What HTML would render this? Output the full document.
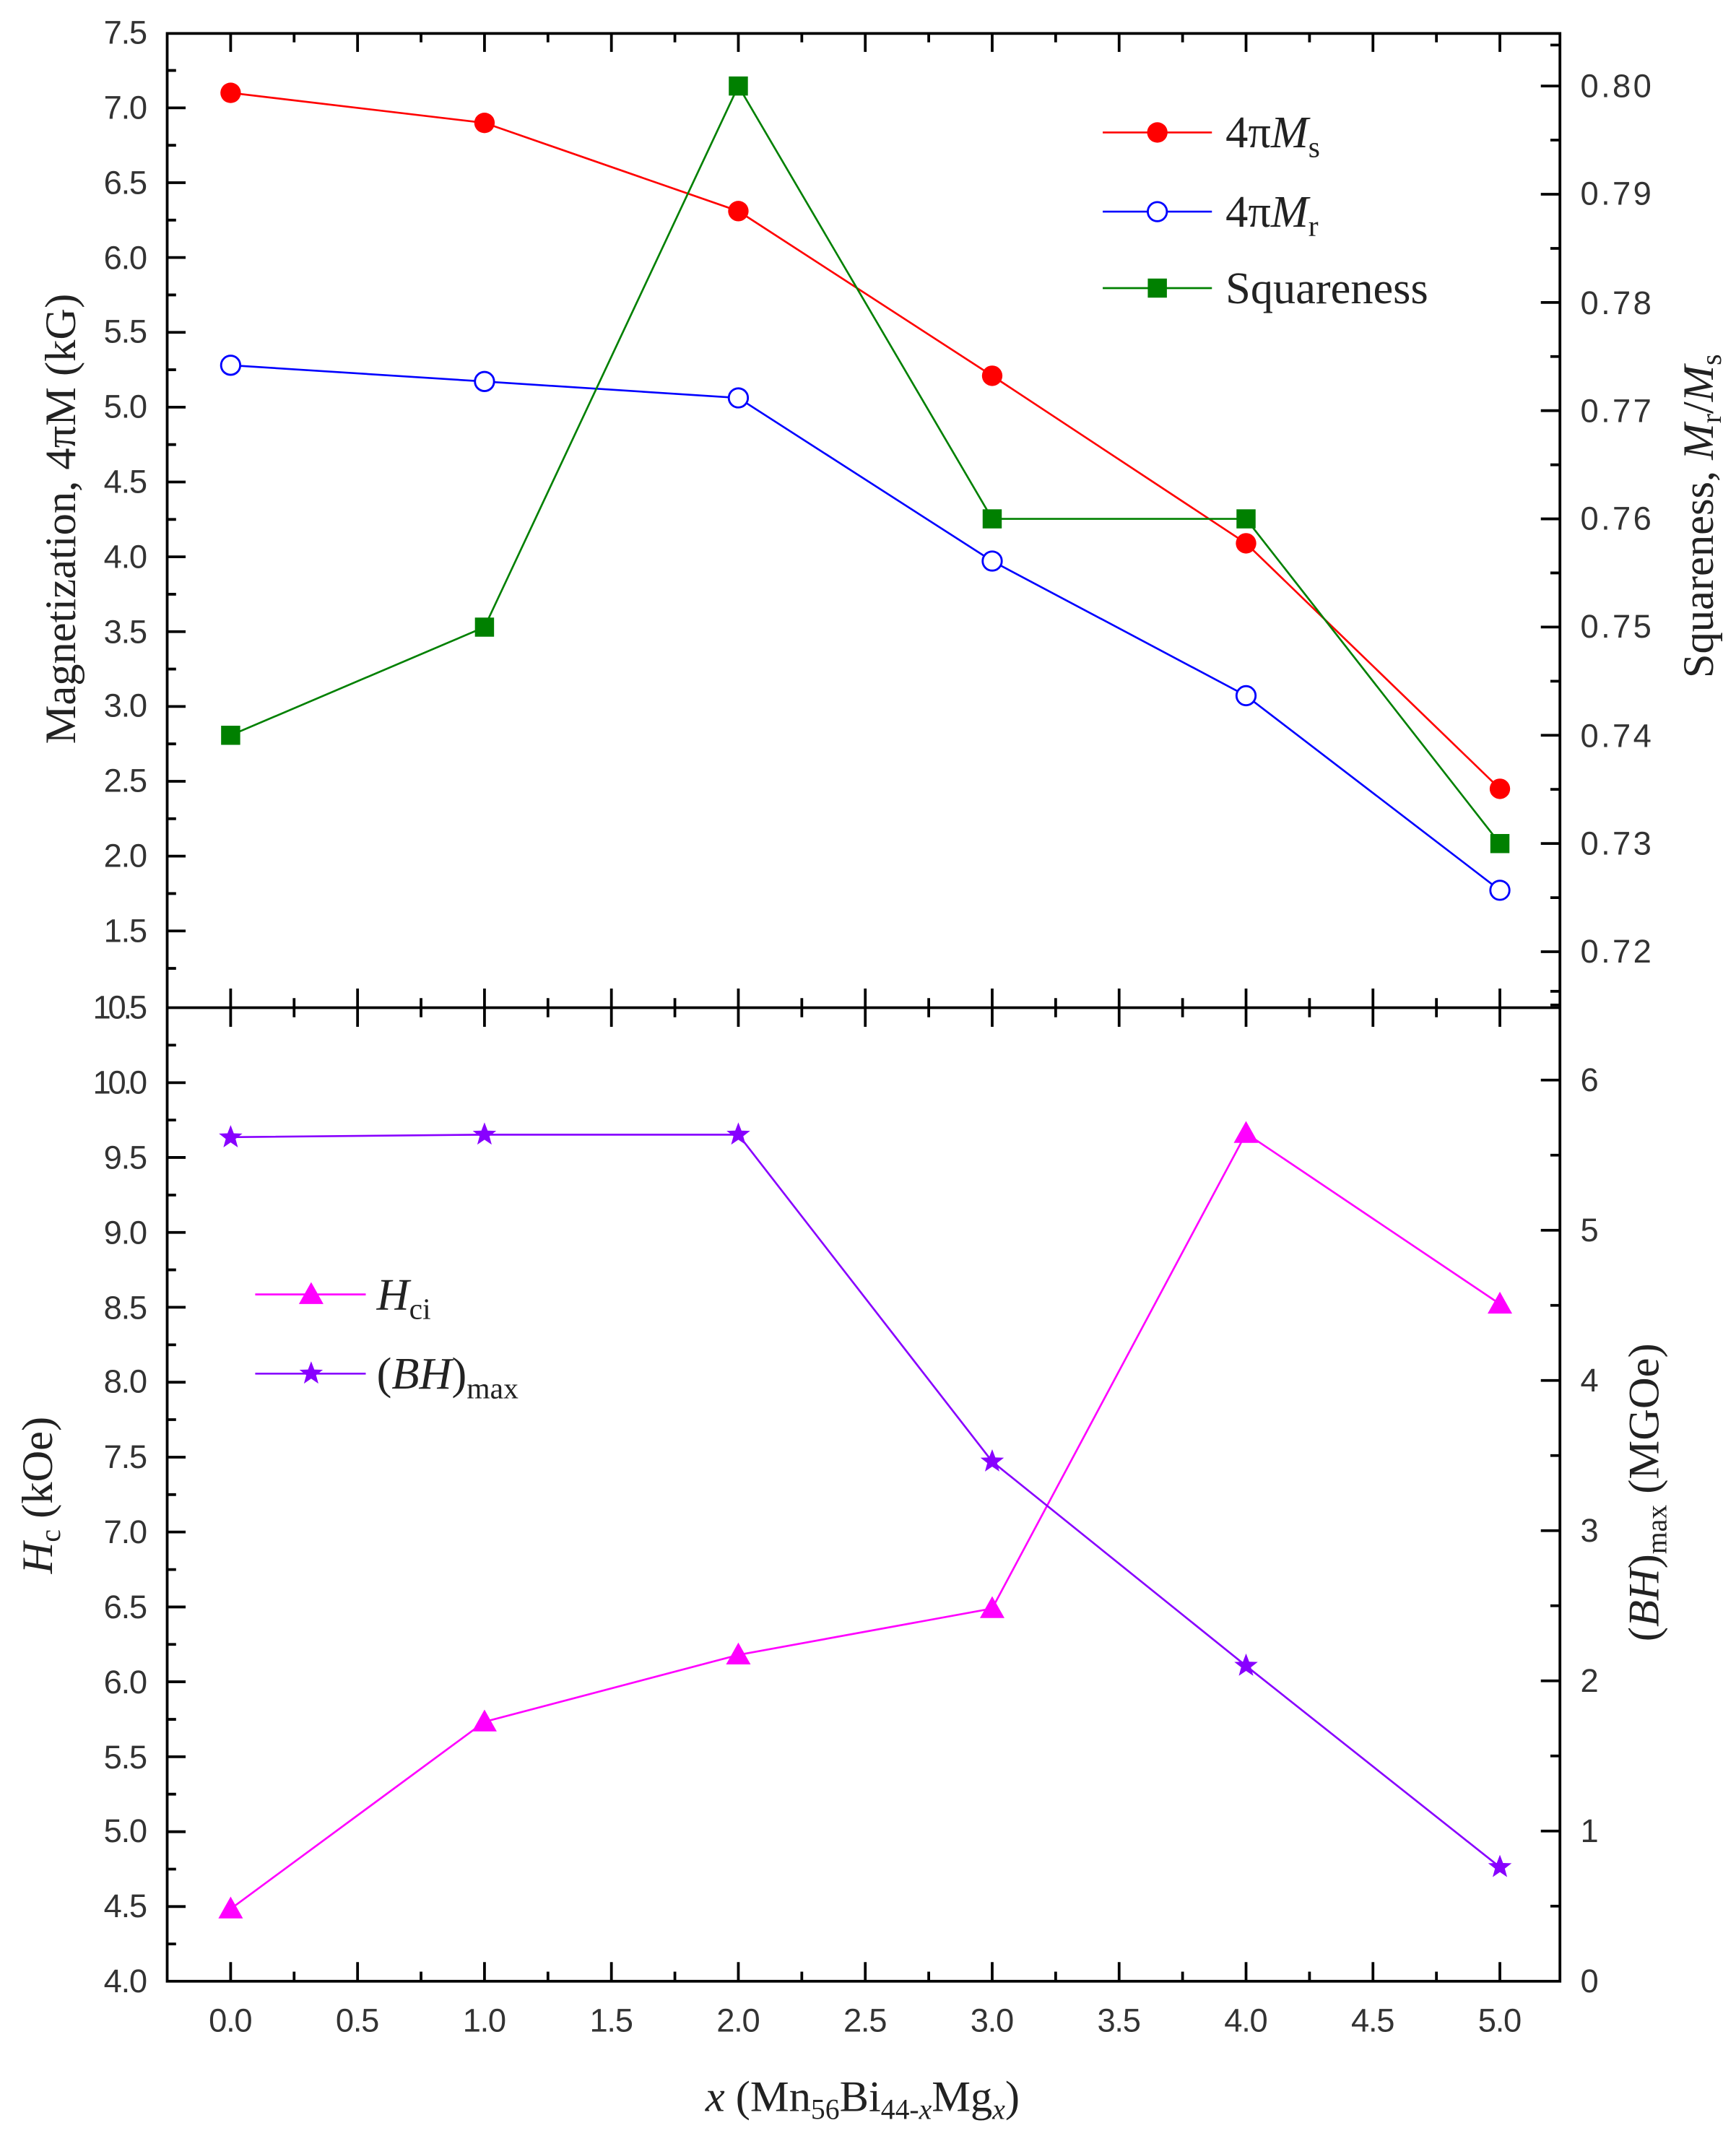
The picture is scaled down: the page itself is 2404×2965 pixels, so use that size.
<!DOCTYPE html>
<html><head><meta charset="utf-8"><style>html,body{margin:0;padding:0;background:#fff}svg{display:block}</style></head>
<body>
<svg xmlns="http://www.w3.org/2000/svg" width="2404" height="2965" viewBox="0 0 1272 1568" preserveAspectRatio="none">
<rect width="1272" height="1568" fill="#fff"/>
<g stroke="#000" stroke-width="2" fill="none">
<rect x="122.5" y="24.5" width="1020.5" height="1426.5"/>
<line x1="122.5" y1="738" x2="1143" y2="738"/>
</g>
<g stroke="#000" stroke-width="2">
<path d="M169 24v14M262 24v14M355 24v14M448 24v14M541 24v14M634 24v14M727 24v14M820 24v14M913 24v14M1006 24v14M1099 24v14
M215.5 24v7M308.5 24v7M401.5 24v7M494.5 24v7M587.5 24v7M680.5 24v7M773.5 24v7M866.5 24v7M959.5 24v7M1052.5 24v7
M169 724v28M262 724v28M355 724v28M448 724v28M541 724v28M634 724v28M727 724v28M820 724v28M913 724v28M1006 724v28M1099 724v28
M215.5 731v14M308.5 731v14M401.5 731v14M494.5 731v14M587.5 731v14M680.5 731v14M773.5 731v14M866.5 731v14M959.5 731v14M1052.5 731v14
M169 1451v-14M262 1451v-14M355 1451v-14M448 1451v-14M541 1451v-14M634 1451v-14M727 1451v-14M820 1451v-14M913 1451v-14M1006 1451v-14M1099 1451v-14
M215.5 1451v-7M308.5 1451v-7M401.5 1451v-7M494.5 1451v-7M587.5 1451v-7M680.5 1451v-7M773.5 1451v-7M866.5 1451v-7M959.5 1451v-7M1052.5 1451v-7"/>
<path d="M122 79h14M122 133.8h14M122 188.6h14M122 243.4h14M122 298.2h14M122 353h14M122 407.8h14M122 462.6h14M122 517.4h14M122 572.2h14M122 627h14M122 681.8h14
M122 51.6h7M122 106.4h7M122 161.2h7M122 216h7M122 270.8h7M122 325.6h7M122 380.4h7M122 435.2h7M122 490h7M122 544.8h7M122 599.6h7M122 654.4h7M122 709.2h7"/>
<path d="M1143 63h-14M1143 142.25h-14M1143 221.5h-14M1143 300.75h-14M1143 380h-14M1143 459.25h-14M1143 538.5h-14M1143 617.75h-14M1143 697h-14
M1143 102.6h-7M1143 181.9h-7M1143 261.1h-7M1143 340.4h-7M1143 419.6h-7M1143 498.9h-7M1143 578.1h-7M1143 657.4h-7M1143 33h-7M1143 726h-7"/>
<path d="M122 792.9h14M122 847.7h14M122 902.6h14M122 957.4h14M122 1012.3h14M122 1067.2h14M122 1122h14M122 1176.9h14M122 1231.7h14M122 1286.6h14M122 1341.5h14M122 1396.3h14
M122 765.4h7M122 820.3h7M122 875.2h7M122 930h7M122 984.9h7M122 1039.7h7M122 1094.6h7M122 1149.5h7M122 1204.3h7M122 1259.2h7M122 1314h7M122 1368.9h7M122 1423.7h7"/>
<path d="M1143 791h-14M1143 901h-14M1143 1011h-14M1143 1121h-14M1143 1231h-14M1143 1341h-14
M1143 846h-7M1143 956h-7M1143 1066h-7M1143 1176h-7M1143 1286h-7M1143 1396h-7M1143 736h-7"/>
</g>
<g font-family="Liberation Sans, sans-serif" font-size="24" fill="#333" text-anchor="end" lengthAdjust="spacingAndGlyphs">
<text x="108" y="32" textLength="32">7.5</text>
<text x="108" y="87" textLength="32">7.0</text>
<text x="108" y="142" textLength="32">6.5</text>
<text x="108" y="197" textLength="32">6.0</text>
<text x="108" y="251" textLength="32">5.5</text>
<text x="108" y="306" textLength="32">5.0</text>
<text x="108" y="361" textLength="32">4.5</text>
<text x="108" y="416" textLength="32">4.0</text>
<text x="108" y="471" textLength="32">3.5</text>
<text x="108" y="525" textLength="32">3.0</text>
<text x="108" y="580" textLength="32">2.5</text>
<text x="108" y="635" textLength="32">2.0</text>
<text x="108" y="690" textLength="32">1.5</text>
<text x="108" y="746" textLength="40">10.5</text>
<text x="108" y="801" textLength="40">10.0</text>
<text x="108" y="856" textLength="32">9.5</text>
<text x="108" y="911" textLength="32">9.0</text>
<text x="108" y="966" textLength="32">8.5</text>
<text x="108" y="1020" textLength="32">8.0</text>
<text x="108" y="1075" textLength="32">7.5</text>
<text x="108" y="1130" textLength="32">7.0</text>
<text x="108" y="1185" textLength="32">6.5</text>
<text x="108" y="1240" textLength="32">6.0</text>
<text x="108" y="1295" textLength="32">5.5</text>
<text x="108" y="1349" textLength="32">5.0</text>
<text x="108" y="1404" textLength="32">4.5</text>
<text x="108" y="1459" textLength="32">4.0</text>
</g>
<g font-family="Liberation Sans, sans-serif" font-size="24" fill="#333" text-anchor="start" lengthAdjust="spacingAndGlyphs">
<text x="1158" y="71" textLength="52">0.80</text>
<text x="1158" y="150" textLength="52">0.79</text>
<text x="1158" y="230" textLength="52">0.78</text>
<text x="1158" y="309" textLength="52">0.77</text>
<text x="1158" y="388" textLength="52">0.76</text>
<text x="1158" y="467" textLength="52">0.75</text>
<text x="1158" y="547" textLength="52">0.74</text>
<text x="1158" y="626" textLength="52">0.73</text>
<text x="1158" y="705" textLength="52">0.72</text>
<text x="1158" y="799">6</text>
<text x="1158" y="909">5</text>
<text x="1158" y="1019">4</text>
<text x="1158" y="1129">3</text>
<text x="1158" y="1239">2</text>
<text x="1158" y="1349">1</text>
<text x="1158" y="1459">0</text>
</g>
<g font-family="Liberation Sans, sans-serif" font-size="24" fill="#333" text-anchor="middle" lengthAdjust="spacingAndGlyphs">
<text x="169" y="1488" textLength="32">0.0</text>
<text x="262" y="1488" textLength="32">0.5</text>
<text x="355" y="1488" textLength="32">1.0</text>
<text x="448" y="1488" textLength="32">1.5</text>
<text x="541" y="1488" textLength="32">2.0</text>
<text x="634" y="1488" textLength="32">2.5</text>
<text x="727" y="1488" textLength="32">3.0</text>
<text x="820" y="1488" textLength="32">3.5</text>
<text x="913" y="1488" textLength="32">4.0</text>
<text x="1006" y="1488" textLength="32">4.5</text>
<text x="1099" y="1488" textLength="32">5.0</text>
</g>
<g font-family="Liberation Serif, serif" font-size="32" fill="#222">
<text transform="translate(55,380) rotate(-90)" text-anchor="middle">Magnetization, 4πM (kG)</text>
<text transform="translate(1255,378) rotate(-90)" text-anchor="middle">Squareness, <tspan font-style="italic">M</tspan><tspan font-size="21" dy="6">r</tspan><tspan dy="-6">/</tspan><tspan font-style="italic">M</tspan><tspan font-size="21" dy="6">s</tspan></text>
<text transform="translate(38,1095) rotate(-90)" text-anchor="middle"><tspan font-style="italic">H</tspan><tspan font-size="21" dy="6">c</tspan><tspan dy="-6"> (kOe)</tspan></text>
<text transform="translate(1215,1093) rotate(-90)" text-anchor="middle">(<tspan font-style="italic">BH</tspan>)<tspan font-size="21" dy="6">max</tspan><tspan dy="-6"> (MGOe)</tspan></text>
<text x="632" y="1546" text-anchor="middle"><tspan font-style="italic">x</tspan> (Mn<tspan font-size="21" dy="6">56</tspan><tspan dy="-6">Bi</tspan><tspan font-size="21" dy="6">44-<tspan font-style="italic">x</tspan></tspan><tspan dy="-6">Mg</tspan><tspan font-size="21" dy="6" font-style="italic">x</tspan><tspan dy="-6">)</tspan></text>
</g>
<g fill="none" stroke-width="1.4">
<polyline stroke="#ff0000" points="169,68 355,90 541,154.6 727,275.2 913,397.9 1099,577.7"/>
<polyline stroke="#0000ff" points="169,267.5 355,279.4 541,291.4 727,410.9 913,509.5 1099,652"/>
<polyline stroke="#008000" points="169,538.5 355,459.3 541,63 727,380 913,380 1099,617.8"/>
<polyline stroke="#ff00ff" points="169,1398 355,1261 541,1212 727,1178 913,830 1099,955"/>
<polyline stroke="#8800ff" points="169,832.8 355,831 541,831 727,1070.4 913,1220 1099,1367.4"/>
</g>
<g fill="#ff0000">
<circle cx="169" cy="68" r="7.5"/><circle cx="355" cy="90" r="7.5"/><circle cx="541" cy="154.6" r="7.5"/><circle cx="727" cy="275.2" r="7.5"/><circle cx="913" cy="397.9" r="7.5"/><circle cx="1099" cy="577.7" r="7.5"/>
</g>
<g fill="#fff" stroke="#0000ff" stroke-width="1.5">
<circle cx="169" cy="267.5" r="7"/><circle cx="355" cy="279.4" r="7"/><circle cx="541" cy="291.4" r="7"/><circle cx="727" cy="410.9" r="7"/><circle cx="913" cy="509.5" r="7"/><circle cx="1099" cy="652" r="7"/>
</g>
<g fill="#008000">
<rect x="162" y="531.5" width="14" height="14"/><rect x="348" y="452.3" width="14" height="14"/><rect x="534" y="56" width="14" height="14"/><rect x="720" y="373" width="14" height="14"/><rect x="906" y="373" width="14" height="14"/><rect x="1092" y="610.8" width="14" height="14"/>
</g>
<g fill="#ff00ff">
<path d="M169 1389l9 16h-18z"/><path d="M355 1252l9 16h-18z"/><path d="M541 1203l9 16h-18z"/><path d="M727 1169l9 16h-18z"/><path d="M913 821l9 16h-18z"/><path d="M1099 946l9 16h-18z"/>
</g>
<defs><path id="st" d="M0,-9 L2.3,-3 L8.6,-2.8 L3.6,1.1 L5.3,7.3 L0,3.7 L-5.3,7.3 L-3.6,1.1 L-8.6,-2.8 L-2.3,-3 Z" fill="#8800ff"/></defs>
<use href="#st" x="169" y="833"/><use href="#st" x="355" y="831"/><use href="#st" x="541" y="831"/><use href="#st" x="727" y="1070.4"/><use href="#st" x="913" y="1220"/><use href="#st" x="1099" y="1367.4"/>
<g stroke-width="1.4">
<line x1="808" y1="97" x2="888" y2="97" stroke="#ff0000"/>
<line x1="808" y1="155" x2="888" y2="155" stroke="#0000ff"/>
<line x1="808" y1="211" x2="888" y2="211" stroke="#008000"/>
</g>
<circle cx="848" cy="97" r="7.5" fill="#ff0000"/>
<circle cx="848" cy="155" r="7" fill="#fff" stroke="#0000ff" stroke-width="1.5"/>
<rect x="841" y="204" width="14" height="14" fill="#008000"/>
<g font-family="Liberation Serif, serif" font-size="33" fill="#222">
<text x="898" y="108">4π<tspan font-style="italic">M</tspan><tspan font-size="22" dy="7">s</tspan></text>
<text x="898" y="166">4π<tspan font-style="italic">M</tspan><tspan font-size="22" dy="7">r</tspan></text>
<text x="898" y="222">Squareness</text>
</g>
<g stroke-width="1.4">
<line x1="187" y1="948" x2="268" y2="948" stroke="#ff00ff"/>
<line x1="187" y1="1006" x2="268" y2="1006" stroke="#8800ff"/>
</g>
<path d="M228 939l9 16h-18z" fill="#ff00ff"/>
<use href="#st" x="228" y="1006"/>
<g font-family="Liberation Serif, serif" font-size="33" fill="#222">
<text x="276" y="959"><tspan font-style="italic">H</tspan><tspan font-size="22" dy="7">ci</tspan></text>
<text x="276" y="1017">(<tspan font-style="italic">BH</tspan>)<tspan font-size="22" dy="7">max</tspan></text>
</g>
</svg>
</body></html>
